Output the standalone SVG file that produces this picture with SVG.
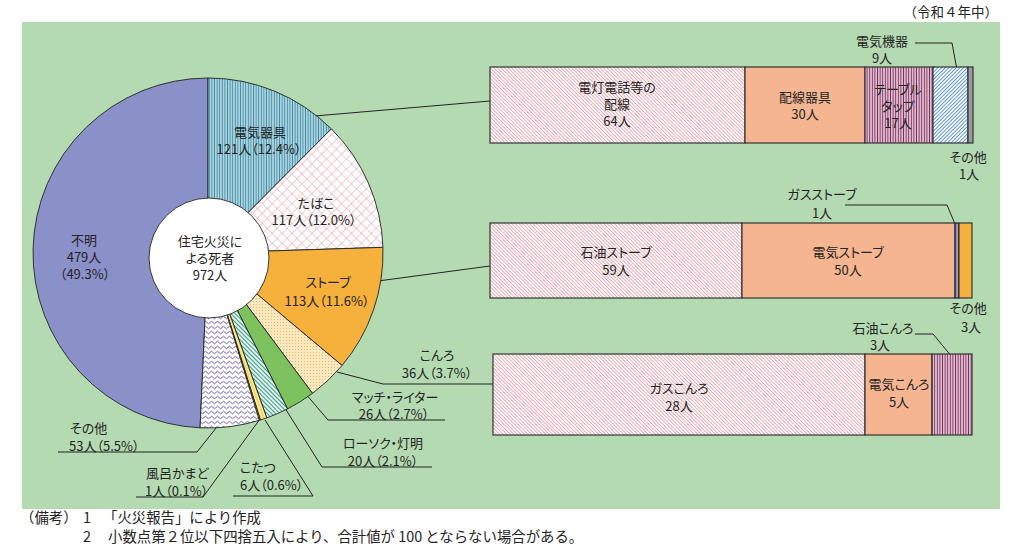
<svg xmlns="http://www.w3.org/2000/svg" width="1024" height="555" viewBox="0 0 1024 555">
<style>
text { font-family: "Noto Sans CJK JP", "Noto Sans", sans-serif; fill: #242424; font-size: 13px; font-feature-settings: "palt" 1; }
.c { text-anchor: middle; }
.e { text-anchor: end; }
.foot { font-size: 14.4px; font-feature-settings: normal; }
.hd { font-size: 13.5px; font-feature-settings: normal; }
.ln { fill: none; stroke: #222; stroke-width: 1; }
.sl { stroke: #222; stroke-width: 0.9; }
.bar { stroke: #333; stroke-width: 1.2; }
</style>
<defs>
<pattern id="pVert" width="2.6" height="10" patternUnits="userSpaceOnUse"><rect width="2.6" height="10" fill="#a7d5e0"/><line x1="1.3" y1="0" x2="1.3" y2="10" stroke="#3a7c9a" stroke-width="0.8"/></pattern>
<pattern id="pCross" width="7" height="7" patternUnits="userSpaceOnUse" patternTransform="rotate(45)"><rect width="7" height="7" fill="#ffffff"/><line x1="0" y1="0" x2="0" y2="7" stroke="#e8a2ac" stroke-width="1.1"/><line x1="0" y1="0" x2="7" y2="0" stroke="#e8a2ac" stroke-width="1.1"/></pattern>
<pattern id="pDots" width="3" height="3" patternUnits="userSpaceOnUse"><rect width="3" height="3" fill="#fbe8bd"/><circle cx="1.5" cy="1.5" r="0.55" fill="#e2b070"/></pattern>
<pattern id="pTeal" width="3" height="10" patternUnits="userSpaceOnUse" patternTransform="rotate(-45)"><rect width="3" height="10" fill="#ffffff"/><line x1="1.5" y1="0" x2="1.5" y2="10" stroke="#3b9e86" stroke-width="1.3"/></pattern>
<pattern id="pZig" width="6" height="5" patternUnits="userSpaceOnUse"><rect width="6" height="5" fill="#ffffff"/><path d="M0 2.5 Q1.5 0 3 2.5 Q4.5 5 6 2.5" fill="none" stroke="#6d5fb3" stroke-width="1"/></pattern>
<pattern id="pPink" width="2.5" height="10" patternUnits="userSpaceOnUse" patternTransform="rotate(-45)"><rect width="2.5" height="10" fill="#ffffff"/><line x1="1.25" y1="0" x2="1.25" y2="10" stroke="#e6a3ae" stroke-width="0.9"/></pattern>
<pattern id="pTap" width="2.6" height="10" patternUnits="userSpaceOnUse"><rect width="2.6" height="10" fill="#e6c6d7"/><line x1="1.3" y1="0" x2="1.3" y2="10" stroke="#7d2f5c" stroke-width="1"/></pattern>
<pattern id="pBlue" width="2.6" height="10" patternUnits="userSpaceOnUse" patternTransform="rotate(45)"><rect width="2.6" height="10" fill="#ffffff"/><line x1="1.3" y1="0" x2="1.3" y2="10" stroke="#5d92d2" stroke-width="1"/></pattern>
<pattern id="pYel" width="3" height="10" patternUnits="userSpaceOnUse" patternTransform="rotate(-20)"><rect width="3" height="10" fill="#f3d862"/><line x1="1.5" y1="0" x2="1.5" y2="10" stroke="#fff6c8" stroke-width="0.8"/></pattern>
</defs>

<rect width="1024" height="555" fill="#ffffff"/>
<rect x="22" y="22" width="978" height="487" fill="#b4dab1"/>
<text class="e hd" x="998" y="17">（令和４年中）</text>

<g id="connectors">
<polyline class="ln" points="303,117 490,101"/>
<polyline class="ln" points="378,281 490,266"/>
<polyline class="ln" points="337,372 383,384 493,384"/>
<polyline class="ln" points="305,393 328,420 445,420"/>
<polyline class="ln" points="283,405 322,467 432,467"/>
<polyline class="ln" points="265,420 313,496 233,496"/>
<polyline class="ln" points="260,419 203,497 136,497"/>
<polyline class="ln" points="224,418 197,452 58,452"/>
<polyline class="ln" points="915,43 952,43 957,70"/>
<polyline class="ln" points="845,205 947,205 955,224"/>
<polyline class="ln" points="915,334 933,334 957,363"/>
</g>

<g id="pie">
<g id="slice-fumei"><path class="sl" fill="#8a90c8" d="M208 253 L200.08 427.82 A175 175 0 0 1 208 78 Z"/>
<text class="c" x="84" y="245">不明</text><text class="c" x="84" y="262">479人</text><text class="c" x="85" y="279">（49.3%）</text></g>
<g id="slice-denki"><path class="sl" fill="url(#pVert)" d="M208 253 L208 78 A175 175 0 0 1 331.34 128.86 Z"/>
<text class="c" x="260" y="137">電気器具</text><text class="c" x="259" y="154">121人（12.4%）</text></g>
<g id="slice-tabako"><path class="sl" fill="url(#pCross)" d="M208 253 L331.34 128.86 A175 175 0 0 1 382.91 247.34 Z"/>
<text class="c" x="316" y="208">たばこ</text><text class="c" x="314" y="225">117人（12.0%）</text></g>
<g id="slice-stove"><path class="sl" fill="#f5b13c" d="M208 253 L382.91 247.34 A175 175 0 0 1 342.06 365.49 Z"/>
<text class="c" x="328" y="287">ストーブ</text><text class="c" x="327" y="306">113人（11.6%）</text></g>
<g id="slice-konro"><path class="sl" fill="url(#pDots)" d="M208 253 L342.06 365.49 A175 175 0 0 1 312.50 393.37 Z"/>
<text class="c" x="437" y="360">こんろ</text><text class="c" x="437" y="378">36人（3.7%）</text></g>
<g id="slice-match"><path class="sl" fill="#7cc360" d="M208 253 L312.50 393.37 A175 175 0 0 1 287.55 408.87 Z"/>
<text class="c" x="395" y="402">マッチ・ライター</text><text class="c" x="394" y="419">26人（2.7%）</text></g>
<g id="slice-candle"><path class="sl" fill="url(#pTeal)" d="M208 253 L287.55 408.87 A175 175 0 0 1 266.79 417.83 Z"/>
<text class="c" x="383" y="448">ローソク・灯明</text><text class="c" x="383" y="466">20人（2.1%）</text></g>
<g id="slice-kotatsu"><path class="sl" fill="url(#pYel)" d="M208 253 L266.79 417.83 A175 175 0 0 1 260.35 419.99 Z"/>
<text x="240" y="472">こたつ</text><text x="240" y="490">6人（0.6%）</text></g>
<g id="slice-furo"><path class="sl" fill="#e9c96a" d="M208 253 L260.35 419.99 A175 175 0 0 1 259.27 420.32 Z"/>
<text x="146" y="478">風呂かまど</text><text x="145" y="496">1人（0.1%）</text></g>
<g id="slice-other"><path class="sl" fill="url(#pZig)" d="M208 253 L259.27 420.32 A175 175 0 0 1 200.08 427.82 Z"/>
<text x="70" y="433">その他</text><text x="69" y="451">53人（5.5%）</text></g>
<g id="center"><circle cx="209" cy="258" r="60" fill="#ffffff" stroke="#222" stroke-width="0.9"/>
<text class="c" x="210" y="246">住宅火災に</text><text class="c" x="210" y="263">よる死者</text><text class="c" x="210" y="280">972人</text></g>
</g>

<g id="bar-denki">
<rect class="bar" x="490" y="67" width="255" height="76" fill="url(#pPink)"/>
<rect class="bar" x="745" y="67" width="120" height="76" fill="#f4b590"/>
<rect class="bar" x="865" y="67" width="68" height="76" fill="url(#pTap)"/>
<rect class="bar" x="933" y="67" width="35" height="76" fill="url(#pBlue)"/>
<rect class="bar" x="968" y="67" width="5" height="76" fill="#9a9aa2"/>
<text class="c" x="617" y="92">電灯電話等の</text><text class="c" x="617" y="109">配線</text><text class="c" x="617" y="126">64人</text>
<text class="c" x="805" y="102">配線器具</text><text class="c" x="805" y="119">30人</text>
<text class="c" x="898" y="94">テーブル</text><text class="c" x="898" y="111">タップ</text><text class="c" x="898" y="128">17人</text>
<text class="c" x="882" y="46">電気機器</text><text class="c" x="882" y="63">9人</text>
<text class="c" x="968" y="162">その他</text><text class="c" x="969" y="179">1人</text>
</g>

<g id="bar-stove">
<rect class="bar" x="490" y="223" width="252" height="75" fill="url(#pPink)"/>
<rect class="bar" x="742" y="223" width="213" height="75" fill="#f4b590"/>
<rect class="bar" x="955" y="223" width="4" height="75" fill="#5a4fa8"/>
<line x1="957" y1="224" x2="957" y2="297" stroke="#ffffff" stroke-width="0.8"/>
<rect class="bar" x="959" y="223" width="13" height="75" fill="#f5b13c"/>
<text class="c" x="616" y="257">石油ストーブ</text><text class="c" x="616" y="275">59人</text>
<text class="c" x="848" y="257">電気ストーブ</text><text class="c" x="848" y="275">50人</text>
<text class="c" x="822" y="199">ガスストーブ</text><text class="c" x="822" y="218">1人</text>
<text class="c" x="968" y="313">その他</text><text class="c" x="971" y="332">3人</text>
</g>

<g id="bar-konro">
<rect class="bar" x="493" y="354" width="372" height="81" fill="url(#pPink)"/>
<rect class="bar" x="865" y="354" width="67" height="81" fill="#f4b590"/>
<rect class="bar" x="932" y="354" width="40" height="81" fill="url(#pTap)"/>
<text class="c" x="679" y="393">ガスこんろ</text><text class="c" x="679" y="411">28人</text>
<text class="c" x="899" y="389">電気こんろ</text><text class="c" x="899" y="407">5人</text>
<text class="c" x="883" y="333">石油こんろ</text><text class="c" x="880" y="350">3人</text>
</g>

<g id="notes">
<text class="foot" x="20" y="523">（備考）</text><text class="foot" x="83" y="523">1</text><text class="foot" x="103" y="523">「火災報告」により作成</text>
<text class="foot" x="83" y="542">2</text><text class="foot" x="108" y="542">小数点第２位以下四捨五入により、合計値が 100 とならない場合がある。</text>
</g>
</svg>
